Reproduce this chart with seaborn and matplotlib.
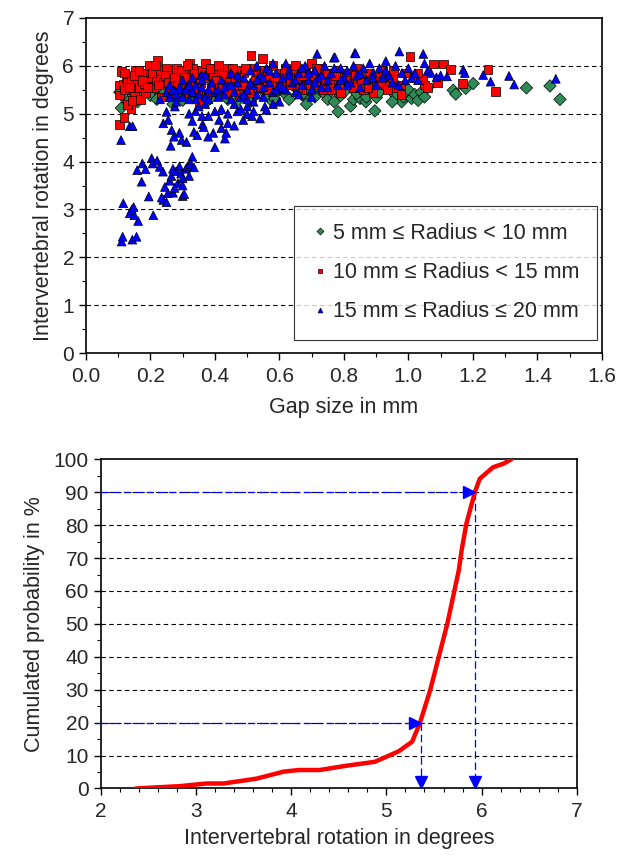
import numpy as np
import pandas as pd
import matplotlib
matplotlib.use('Agg')
import matplotlib.pyplot as plt
from matplotlib.ticker import MultipleLocator, FormatStrFormatter
import seaborn as sns

# --- top panel: gap size (mm) vs rotation (deg) ---
green_x = [0.11, 0.12, 0.13, 0.14, 0.15, 0.165, 0.136, 0.17, 0.18, 0.19, 0.2, 0.105,
           0.21, 0.232, 0.245, 0.26, 0.279, 0.29, 0.3, 0.31, 0.33, 0.35, 0.374, 0.385, 0.39, 0.4, 0.25, 0.28, 0.36, 0.38,
           0.41, 0.43, 0.44, 0.46, 0.47, 0.49, 0.5, 0.52, 0.54, 0.55, 0.576, 0.585, 0.45, 0.53, 0.6,
           0.62, 0.64, 0.66, 0.682, 0.684, 0.70, 0.71, 0.72, 0.74, 0.75, 0.76, 0.77, 0.782, 0.79, 0.68, 0.73, 0.65,
           0.80, 0.821, 0.83, 0.85, 0.868, 0.88, 0.896, 0.901, 0.91, 0.93, 0.943, 0.96, 0.979, 0.985, 0.99, 0.86, 0.92,
           1.0, 1.01, 1.02, 1.03, 1.04, 1.05, 1.06, 1.139, 1.147, 1.178, 1.201, 1.366, 1.439, 1.47,
           0.16, 0.22, 0.27, 0.32, 0.42, 0.48, 0.51, 0.56, 0.58, 0.63, 0.67, 0.78, 0.84, 0.87, 0.95]
green_y = [5.12, 5.32, 5.25, 5.55, 5.42, 5.46, 5.70, 5.35, 5.60, 5.50, 5.38, 5.45,
           5.62, 5.41, 5.45, 5.55, 5.30, 5.40, 5.28, 5.60, 5.50, 5.35, 5.25, 5.32, 5.45, 5.60, 5.72, 5.80, 5.75, 5.85,
           5.42, 5.38, 5.30, 5.50, 5.27, 5.60, 5.45, 5.35, 5.55, 5.70, 5.27, 5.32, 5.80, 5.85, 5.50,
           5.40, 5.60, 5.50, 5.34, 5.20, 5.45, 5.35, 5.55, 5.42, 5.30, 5.48, 5.25, 5.04, 5.38, 5.75, 5.70, 5.85,
           5.45, 5.16, 5.30, 5.32, 5.25, 5.50, 5.06, 5.34, 5.45, 5.60, 5.51, 5.38, 5.25, 5.35, 5.45, 5.65, 5.70,
           5.50, 5.32, 5.40, 5.28, 5.45, 5.35, 5.55, 5.49, 5.41, 5.53, 5.63, 5.54, 5.58, 5.30,
           5.25, 5.30, 5.20, 5.35, 5.50, 5.38, 5.25, 5.40, 5.55, 5.30, 5.40, 5.50, 5.42, 5.35, 5.25]

red_x = [0.103, 0.118, 0.14, 0.13, 0.103, 0.111, 0.105, 0.115, 0.12, 0.125, 0.13, 0.14, 0.15, 0.145, 0.16, 0.165,
         0.17, 0.18, 0.19, 0.198, 0.2, 0.185, 0.155,
         0.21, 0.22, 0.221, 0.23, 0.24, 0.25, 0.26, 0.27, 0.28, 0.29, 0.30, 0.31, 0.322, 0.33, 0.34, 0.353, 0.36,
         0.372, 0.38, 0.39, 0.4, 0.235, 0.265, 0.32, 0.345, 0.375, 0.395,
         0.41, 0.42, 0.43, 0.44, 0.45, 0.46, 0.47, 0.48, 0.49, 0.5, 0.512, 0.52, 0.53, 0.547, 0.55, 0.56, 0.57, 0.58,
         0.59, 0.6, 0.435, 0.475, 0.505, 0.565,
         0.61, 0.62, 0.63, 0.64, 0.65, 0.66, 0.67, 0.68, 0.69, 0.70, 0.71, 0.72, 0.73, 0.74, 0.75, 0.76, 0.77, 0.78,
         0.79, 0.8,
         0.81, 0.82, 0.83, 0.84, 0.85, 0.86, 0.87, 0.88, 0.89, 0.9, 0.92, 0.93, 0.94, 0.95, 0.96, 0.977, 0.99,
         1.005, 1.02, 1.044, 1.05, 1.079, 1.11, 1.131, 1.168, 1.247, 1.27,
         0.12, 0.135, 0.15, 0.165, 0.175, 0.19, 0.205, 0.215, 0.225, 0.245, 0.255, 0.275, 0.285, 0.295, 0.305,
         0.315, 0.335, 0.355, 0.365, 0.385, 0.405, 0.415, 0.425, 0.445, 0.455, 0.465, 0.485, 0.495, 0.525, 0.535,
         0.545, 0.575, 0.595, 0.615, 0.635, 0.655, 0.675, 0.695, 0.715, 0.735, 0.755, 0.775, 0.795, 0.815, 0.835,
         0.855, 0.875, 0.895, 0.915, 0.935, 0.955, 0.975, 1.03, 1.06, 1.09]
red_y = [4.78, 4.92, 5.10, 5.20, 5.39, 5.88, 5.60, 5.62, 5.50, 5.75, 5.65, 5.68, 5.40, 5.28, 5.72, 5.55,
         5.30, 5.62, 5.85, 6.00, 5.75, 5.45, 5.90,
         5.55, 5.72, 6.11, 5.90, 5.65, 5.95, 5.80, 5.50, 5.95, 5.75, 5.60, 5.85, 6.05, 5.95, 5.70, 5.25, 5.90,
         6.05, 5.80, 5.55, 5.95, 5.35, 5.42, 5.45, 5.50, 5.40, 5.75,
         6.00, 5.85, 5.65, 5.95, 5.75, 5.50, 5.90, 5.70, 5.85, 5.60, 6.21, 5.95, 5.80, 6.16, 5.65, 5.90, 5.75, 6.00,
         5.55, 5.85, 5.45, 5.40, 5.45, 5.50,
         5.70, 5.95, 5.60, 5.85, 6.00, 5.75, 5.50, 5.90, 5.65, 6.05, 5.80, 5.60, 5.95, 5.70, 5.85, 5.50, 5.65, 5.90,
         5.45, 5.75,
         5.85, 5.60, 5.55, 5.95, 5.75, 5.50, 5.65, 5.85, 5.45, 5.70, 5.90, 5.60, 5.80, 5.75, 5.55, 5.40, 5.85,
         6.20, 5.75, 5.72, 5.60, 6.04, 6.04, 5.93, 5.63, 5.93, 5.46,
         5.85, 5.55, 5.80, 5.90, 5.70, 5.55, 5.85, 6.00, 5.60, 5.80, 5.65, 5.75, 5.60, 5.90, 5.75,
         6.00, 5.85, 5.65, 5.75, 5.95, 5.70, 5.55, 5.80, 5.65, 5.95, 5.75, 5.60, 5.95, 5.70, 5.55,
         5.90, 5.60, 5.75, 5.85, 5.70, 5.55, 5.80, 5.60, 5.95, 5.50, 5.65, 5.80, 5.60, 5.70, 5.80,
         5.65, 5.55, 5.75, 5.65, 5.50, 5.90, 5.60, 5.85, 5.55, 5.65]

blue_x = [0.111, 0.114, 0.144, 0.157, 0.116, 0.136, 0.142, 0.148, 0.15, 0.162, 0.209, 0.195, 0.173, 0.159, 0.175,
          0.185, 0.204, 0.207, 0.221, 0.229, 0.239, 0.245, 0.254, 0.24, 0.25, 0.27, 0.3, 0.305, 0.235, 0.26, 0.265,
          0.27, 0.28, 0.285, 0.29, 0.295, 0.3, 0.31, 0.315, 0.32, 0.33, 0.325, 0.335, 0.3, 0.275,
          0.109, 0.136, 0.145, 0.24, 0.255, 0.266, 0.273, 0.29, 0.297, 0.263, 0.312, 0.335, 0.345, 0.362, 0.365,
          0.379, 0.395, 0.431, 0.435, 0.413, 0.44, 0.488, 0.50, 0.515, 0.555, 0.56, 0.25, 0.276, 0.32, 0.34, 0.35,
          0.4, 0.37, 0.42, 0.46, 0.47, 0.5, 0.52, 0.58, 0.6,
          0.276, 0.29, 0.31, 0.33, 0.359,
          0.25, 0.26, 0.27, 0.28, 0.29, 0.3, 0.31, 0.32, 0.33, 0.34, 0.35, 0.36, 0.37, 0.38, 0.39, 0.4, 0.33, 0.37,
          0.41, 0.42, 0.43, 0.44, 0.45, 0.46, 0.47, 0.48, 0.49, 0.5, 0.51, 0.52, 0.53, 0.54, 0.55, 0.56, 0.57, 0.58,
          0.59, 0.6, 0.45, 0.5, 0.55, 0.53, 0.58,
          0.61, 0.62, 0.63, 0.64, 0.65, 0.66, 0.67, 0.68, 0.69, 0.7, 0.71, 0.717, 0.72, 0.73, 0.74, 0.75, 0.76, 0.769,
          0.772, 0.78, 0.79, 0.8, 0.62, 0.66, 0.7,
          0.81, 0.82, 0.83, 0.834, 0.836, 0.84, 0.85, 0.86, 0.87, 0.88, 0.89, 0.9, 0.91, 0.92, 0.93, 0.94, 0.95, 0.96,
          0.972, 0.98, 0.99,
          1.0, 1.01, 1.02, 1.046, 1.05, 1.06, 1.087, 1.1, 1.12, 1.17, 1.175, 1.232, 1.255, 1.312, 1.328, 1.457,
          0.23, 0.26, 0.28, 0.3, 0.32, 0.34, 0.36, 0.38, 0.41, 0.43, 0.45, 0.47, 0.49, 0.51, 0.53,
          0.55, 0.57, 0.59, 0.61, 0.63, 0.65, 0.67, 0.69, 0.71, 0.73, 0.75, 0.77, 0.79, 0.81, 0.85,
          0.89, 0.93, 0.97, 1.03, 1.07, 0.38, 0.42, 0.44, 0.48, 0.52, 0.54, 0.46, 0.33, 0.36, 0.4]
blue_y = [2.33, 2.43, 2.37, 2.43, 3.13, 2.92, 3.00, 3.05, 2.88, 2.76, 2.88, 3.27, 3.58, 3.82, 3.96,
          3.84, 4.07, 3.96, 4.02, 3.89, 3.79, 3.47, 3.34, 3.20, 3.15, 3.35, 3.28, 3.32, 3.25, 3.60, 3.70,
          3.85, 3.80, 3.55, 3.90, 3.75, 3.65, 3.85, 3.90, 3.70, 4.10, 3.95, 3.88, 3.50, 3.45,
          4.45, 4.74, 4.74, 4.80, 4.87, 4.66, 4.52, 4.60, 4.45, 4.33, 4.41, 4.62, 4.55, 4.78, 4.72,
          4.52, 4.60, 4.48, 4.60, 4.87, 4.80, 4.87, 4.99, 4.95, 5.15, 5.08, 5.04, 5.15, 5.00, 5.05, 5.15,
          5.05, 5.20, 5.10, 5.20, 5.05, 5.15, 5.25, 5.20, 5.25,
          5.48, 5.50, 5.52, 5.50, 5.81,
          5.45, 5.35, 5.50, 5.40, 5.55, 5.35, 5.50, 5.30, 5.45, 5.60, 5.40, 5.55, 5.35, 5.50, 5.65, 5.45, 5.75, 5.80,
          5.50, 5.70, 5.40, 5.60, 5.85, 5.45, 5.65, 5.35, 5.75, 5.50, 5.90, 5.60, 5.40, 5.80, 5.55, 5.95, 5.65, 5.45,
          5.85, 5.60, 5.30, 5.30, 5.35, 6.00, 6.05,
          5.75, 5.50, 5.90, 5.65, 5.45, 5.85, 5.60, 6.00, 5.70, 5.50, 5.90, 6.25, 5.75, 5.55, 6.00, 5.70, 5.85, 6.17,
          6.18, 5.60, 5.95, 5.75, 6.05, 5.40, 5.35,
          5.90, 5.65, 6.00, 6.27, 6.26, 5.80, 5.55, 5.95, 5.70, 6.05, 5.85, 5.60, 5.95, 5.75, 6.10, 5.80, 5.65, 6.00,
          6.30, 5.85, 5.70,
          5.95, 5.75, 5.85, 6.25, 6.05, 5.90, 5.76, 5.80, 5.78, 5.92, 5.85, 5.81, 5.67, 5.79, 5.61, 5.73,
          5.30, 5.60, 5.25, 5.70, 5.60, 5.30, 5.70, 5.30, 5.35, 5.55, 5.60, 5.80, 5.40, 5.65, 5.70,
          5.75, 5.90, 5.50, 5.55, 5.80, 5.70, 5.95, 5.85, 5.65, 5.80, 5.55, 5.95, 5.70, 5.60, 5.85,
          5.75, 5.90, 5.60, 5.70, 5.85, 4.95, 4.70, 5.00, 5.10, 5.05, 4.90, 4.75, 4.85, 4.95, 4.30]

labels = ['5 mm \u2264 Radius < 10 mm', '10 mm \u2264 Radius < 15 mm', '15 mm \u2264 Radius \u2264 20 mm']

# --- bottom panel: cumulated distribution of rotation ---
cdf_deg = [2.37, 2.83, 3.11, 3.29, 3.64, 3.92, 4.08, 4.30, 4.58, 4.88, 5.13, 5.27, 5.35, 5.46, 5.55, 5.64,
           5.70, 5.76, 5.79, 5.84, 5.93, 5.98, 6.12, 6.23, 6.31]
cdf_pct = [0.0, 0.7, 1.5, 1.5, 3.0, 5.1, 5.6, 5.6, 6.9, 8.1, 11.3, 14.2, 19.7, 29.9, 40.0, 50.1,
           58.2, 66.3, 72.4, 80.5, 90.1, 94.1, 97.6, 98.7, 100.0]
read_pct = [20, 90]
read_deg = [5.36, 5.93]

sns.set_style('ticks')
plt.rcParams['font.family'] = ['Liberation Sans', 'DejaVu Sans']

df = pd.concat([
    pd.DataFrame({'gap': green_x, 'rot': green_y, 'grp': labels[0]}),
    pd.DataFrame({'gap': red_x, 'rot': red_y, 'grp': labels[1]}),
    pd.DataFrame({'gap': blue_x, 'rot': blue_y, 'grp': labels[2]}),
], ignore_index=True)
cdf_df = pd.DataFrame({'deg': cdf_deg, 'pct': cdf_pct})

fig = plt.figure(figsize=(6.41, 8.57), dpi=100)
ax1 = fig.add_axes([0.134, 0.588, 0.805, 0.391])
ax2 = fig.add_axes([0.157, 0.080, 0.743, 0.384])

sns.scatterplot(data=df, x='gap', y='rot', hue='grp', style='grp',
                palette=['#2E8B57', '#FF0000', '#0000FF'], markers=['D', 's', '^'],
                s=40, edgecolor='black', linewidth=0.5, ax=ax1, zorder=3)
ax1.set_xlim(0, 1.6)
ax1.set_ylim(0, 7)
ax1.xaxis.set_major_locator(MultipleLocator(0.2))
ax1.xaxis.set_minor_locator(MultipleLocator(0.1))
ax1.yaxis.set_major_locator(MultipleLocator(1))
ax1.yaxis.set_minor_locator(MultipleLocator(0.5))
ax1.xaxis.set_major_formatter(FormatStrFormatter('%.1f'))
for v in range(1, 7):
    ax1.axhline(v, color='black', linestyle=(0, (4, 3)), linewidth=0.8, zorder=1)
ax1.set_xlabel('Gap size in mm', fontsize=15.5, labelpad=8)
ax1.set_ylabel('Intervertebral rotation in degrees', fontsize=15.5, labelpad=6)
leg = ax1.legend(loc='lower right', bbox_to_anchor=(0.99, 0.04), borderaxespad=0, frameon=True,
                 fancybox=False, edgecolor='black', fontsize=15.5, markerscale=0.55, handletextpad=0.2,
                 labelspacing=0.85, borderpad=0.8, handlelength=0.8)
leg.get_frame().set_linewidth(0.8)

sns.lineplot(data=cdf_df, x='deg', y='pct', color='red', linewidth=3.2, ax=ax2, zorder=4)
for p, d in zip(read_pct, read_deg):
    ax2.plot([2, d - 0.06], [p, p], color='blue', linestyle=(0, (6, 3)), linewidth=0.9, zorder=3)
    ax2.plot([d - 0.06], [p], marker='>', color='blue', markersize=8, zorder=5, clip_on=False)
    ax2.plot([d, d], [p, 2.5], color='blue', linestyle=(0, (6, 3)), linewidth=0.9, zorder=3)
    ax2.plot([d], [2.0], marker='v', color='blue', markersize=8, zorder=5, clip_on=False)
ax2.set_xlim(2, 7)
ax2.set_ylim(0, 100)
ax2.xaxis.set_major_locator(MultipleLocator(1))
ax2.xaxis.set_minor_locator(MultipleLocator(0.2))
ax2.yaxis.set_major_locator(MultipleLocator(10))
ax2.yaxis.set_minor_locator(MultipleLocator(5))
for v in range(10, 100, 10):
    ax2.axhline(v, color='black', linestyle=(0, (4, 3)), linewidth=0.8, zorder=1)
ax2.set_xlabel('Intervertebral rotation in degrees', fontsize=15.5, labelpad=5)
ax2.set_ylabel('Cumulated probability in %', fontsize=15.5, labelpad=6)

for ax in (ax1, ax2):
    for sp in ax.spines.values():
        sp.set_visible(True)
        sp.set_linewidth(1.2)
        sp.set_color('black')
    ax.tick_params(which='major', direction='out', length=5, width=1, labelsize=15, color='black')
    ax.tick_params(which='minor', direction='out', length=3, width=0.8, color='black')
    ax.tick_params(axis='x', which='major', pad=5)
    ax.grid(False)

fig.savefig('out.png', dpi=100)
